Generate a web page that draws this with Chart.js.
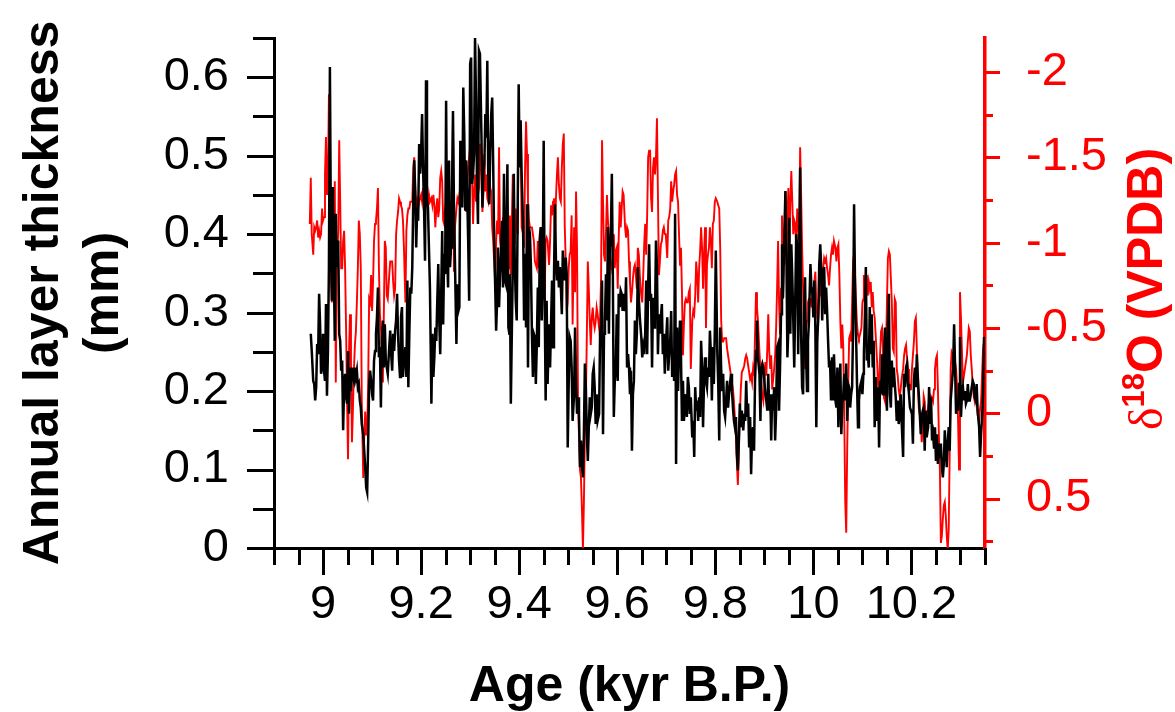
<!DOCTYPE html>
<html><head><meta charset="utf-8">
<script src="https://cdn.jsdelivr.net/npm/chart.js@4/dist/chart.umd.min.js"></script>
<style>html,body{margin:0;padding:0;background:#fff;overflow:hidden}canvas{display:block}</style>
</head><body>
<canvas id="c" width="1175" height="712"></canvas>
<script>
// Age in years B.P. (x values)
const ageYears = [
8973,8975,8977,8980,8982,8984,8986,8988,8990,8992,8994,8996,8998,9000,9002,9004,9006,9008,9010,9012,9014,9016,9018,9020,9022,9024,9026,9028,9031,9033,9035,9037,9039,9041,9043,9045,9047,9049,9051,9053,9055,9057,9059,9061,9063,9065,9067,9069,9071,9073,9075,9077,9079,9082,9084,9086,9088,9090,9092,9094,9096,9098,9100,9102,9104,9106,9108,9110,9112,9114,9116,9118,9120,9122,9124,9126,9128,9130,9132,9135,9137,9139,
9141,9143,9145,9147,9149,9151,9153,9155,9157,9159,9161,9163,9165,9168,9170,9172,9174,9176,9178,9180,9182,9184,9186,9188,9190,9192,9194,9196,9198,9200,9202,9204,9206,9208,9210,9212,9214,9216,9218,9221,9223,9225,9227,9229,9231,9233,9235,9237,9239,9241,9243,9245,9247,9249,9251,9253,9255,9257,9259,9261,9263,9265,9267,9269,9272,9274,9276,9278,9280,9282,9284,9286,9288,9290,9292,9294,9296,9298,9300,9302,9304,9306,9308,9310,9312,9314,9316,9318,9320,9323,9325,9327,9329,9331,9333,9335,9337,9339,9341,9343,9345,9347,9349,9351,9353,9355,9357,9359,9361,9363,9365,9367,9369,9371,9373,9376,9378,9380,
9381,9383,9385,9387,9389,9391,9393,9395,9397,9399,9401,9403,9405,9408,9410,9412,9414,9416,9418,9420,9422,9424,9426,9428,9430,9432,9434,9436,9438,9440,9442,9444,9446,9448,9450,9452,9454,9456,9458,9461,9463,9465,9467,9469,9471,9473,9475,9477,9479,9481,9483,9485,9487,9489,9491,9493,9495,9497,9499,9501,9503,9505,9507,9509,9512,9514,9516,9518,9520,9522,9524,9526,9528,9530,9532,9534,9536,9538,9540,9542,9544,9546,9548,9550,9552,9554,9556,9558,9560,9563,9565,9567,9569,9571,9573,9575,9577,9579,9581,9583,9585,9587,9589,9591,9593,9595,9597,9599,9601,9603,9605,9607,9609,9611,9613,9616,9618,9620,
9622,9624,9626,9628,9630,9632,9634,9636,9638,9640,9642,9644,9646,9649,9651,9653,9655,9657,9659,9661,9663,9665,9667,9669,9671,9673,9675,9677,9679,9681,9683,9685,9687,9689,9691,9693,9695,9697,9699,9702,9704,9706,9708,9710,9712,9714,9716,9718,9720,9722,9724,9726,9728,9730,9732,9734,9736,9738,9740,9742,9744,9746,9748,9750,9753,9755,9757,9759,9761,9763,9765,9767,9769,9771,9773,9775,9777,9779,9781,9783,9785,9787,9789,9791,9793,9795,9797,9799,9801,9804,9806,9808,9810,9812,9814,9816,9818,9820,9822,9824,9826,9828,9830,9832,9834,9836,9838,9840,9842,9844,9846,9848,9850,9852,9854,9857,9859,9861,
9863,9865,9867,9869,9871,9873,9875,9877,9879,9881,9883,9885,9887,9890,9892,9894,9896,9898,9900,9902,9904,9906,9908,9910,9912,9914,9916,9918,9920,9922,9924,9926,9928,9930,9932,9934,9936,9938,9940,9943,9945,9947,9949,9951,9953,9955,9957,9959,9961,9963,9965,9967,9969,9971,9973,9975,9977,9979,9981,9983,9985,9987,9989,9991,9994,9996,9998,10000,10002,10004,10006,10008,10010,10012,10014,10016,10018,10020,10022,10024,10026,10028,10030,10032,10034,10036,10038,10040,10042,10045,10047,10049,10051,10053,10055,10057,10059,10061,10063,10065,10067,10069,10071,10073,10075,10077,10079,10081,10083,10085,10087,10089,10091,10093,10095,10098,10100,10102,
10103,10105,10107,10109,10111,10113,10115,10117,10119,10121,10123,10125,10127,10130,10132,10134,10136,10138,10140,10142,10144,10146,10148,10150,10152,10154,10156,10158,10160,10162,10164,10166,10168,10170,10172,10174,10176,10178,10180,10183,10185,10187,10189,10191,10193,10195,10197,10199,10201,10203,10205,10207,10209,10211,10213,10215,10217,10219,10221,10223,10225,10227,10229,10231,10234,10236,10238,10240,10242,10244,10246,10248,10250,10252,10254,10256,10258,10260,10262,10264,10266,10268,10270,10272,10274,10276,10278,10280,10282,10285,10287,10289,10291,10293,10295,10297,10299,10301,10303,10305,10307,10309,10311,10313,10315,10317,10319,10321,10323,10325,10327,10329,10331,10333,10335,10338,10340,10342,10344,10346,10348,10350
];

// Annual layer thickness (mm), black, left axis
const thickness = [
null,.273,.251,.213,.209,.188,.205,.260,.247,.324,.285,.222,.230,.273,.226,.213,.311,.194,.251,.358,.613,.409,.315,.460,.358,.264,.426,.358,.392,.273,.264,.226,.239,.150,.209,.222,.192,.184,.251,.171,.230,.200,.230,.218,.213,.230,.218,.226,.205,.209,.188,.179,.158,.145,.124,.103,.077,.071,.133,.209,.226,.213,.196,.188,.239,.251,.273,.294,.332,.243,.256,.179,.264,.290,.230,.285,.239,.230,.222,.256,.277,.247,
.226,.273,.251,.277,.290,.324,.273,.239,.218,.294,.307,.218,.239,.256,.218,.341,.205,.273,.332,.324,.358,.443,.494,.455,.383,.434,.417,.515,.477,.502,.553,.485,.434,
.366,.596,.443,.434,.383,.332,.184,.273,.218,.243,.281,.264,.315,.362,.290,.247,.324,.404,.285,.375,.349,.570,.379,.332,.494,.358,.383,.451,
.557,.434,.366,.260,.336,.302,.307,.519,.455,.434,.587,.528,.430,.494,.451,.392,.315,.617,.625,.464,.477,.502,.652,.570,.468,.413,.634,.630,.528,.434,.477,.489,.553,.523,.621,.464,.438,.506,.553,.574,.489,.392,.336,.277,.315,.383,.307,.349,.375,.417,.332,.477,.341,.336,.489,.281,.273,
.349,.184,.273,.358,.477,.366,.315,.290,.434,.591,.485,.545,.477,.409,.290,.375,.281,.438,.230,.409,.400,.358,.273,.218,.273,.269,.209,.260,.332,.256,.392,.409,.290,
.358,.519,.319,.188,.315,.209,.285,.230,.285,.341,.256,.345,.438,.366,.341,.366,.332,.358,.332,.298,.379,.358,.341,.370,.349,.128,.209,.269,
.264,.230,.162,.196,.281,.209,.171,.192,.171,.103,.137,.103,.090,.145,.235,.205,.145,.111,.154,.192,.171,.179,.222,.230,.205,.158,.196,.162,.171,.273,.285,.341,.145,.273,.290,.349,.290,.409,.273,.383,.400,.477,.349,.167,.213,.230,.298,.213,.324,.307,.328,.324,.302,.324,.302,.345,.230,
.247,.230,.196,.226,.124,.196,.213,.290,.247,.273,.358,.319,.294,.269,.243,.256,.247,.273,.341,.247,.332,.387,.315,.324,.230,.319,.281,.290,.392,.358,.247,.298,.273,
.294,.311,.247,.273,.222,.256,.294,.226,.247,.264,.302,.218,.251,.213,.426,.107,.281,.200,.251,.290,.243,.162,.213,.162,.188,.196,.167,.218,
.205,.171,.192,.141,.162,.116,.205,.175,.188,.162,.192,.167,.264,.230,.154,.213,.243,.213,.205,.230,.218,.277,.247,.188,.256,.209,.277,.379,.251,.209,.137,.281,.226,.200,.222,.175,.167,.188,.213,.179,.196,.209,.222,.200,.179,.162,.154,.167,.120,.099,.137,.184,.154,.175,.150,.171,.162,
.213,.167,.184,.128,.167,.094,.145,.154,.124,.213,.251,.290,.243,.222,.162,.230,.235,.230,.213,.196,.188,.175,.222,.175,.196,.137,.196,.175,.205,.137,.175,.256,.260,
.175,.230,.298,.387,.319,.379,.455,.375,.243,.281,.421,.273,.387,.345,.290,.230,.315,.400,.383,.247,.358,.485,.273,.205,.196,.298,.345,.247,
.200,.264,.290,.362,.332,.324,.294,.341,.281,.154,.264,.298,.362,.387,.358,.290,.349,.358,.298,.332,.302,.264,.230,.239,.188,.243,.188,.247,.188,.179,.230,.154,.205,.235,.145,.184,.196,.222,.188,.235,.162,.209,.205,.179,.196,.205,.281,.438,.332,.273,.209,.154,.188,.205,.213,.196,.222,
.247,.294,.358,.239,.247,.230,.307,.247,.298,.230,.264,.154,.218,.162,.205,.128,.213,.196,.247,.196,.247,.281,.222,.175,.285,.324,.196,.179,.239,.205,.230,.209,.192,
.162,.188,.158,.167,.196,.162,.116,.222,.205,.230,.235,.209,.196,.179,.175,.171,.133,.213,.230,.205,.247,.218,.196,.171,.145,.167,.175,.179,
.124,.175,.141,.154,.205,.158,.192,.137,.145,.128,.154,.111,.145,.107,.133,.124,.133,.103,.090,.107,.150,.128,.103,.133,.154,.124,.188,.205,.230,.285,.230,.171,.188,.175,.209,.269,.167,.196,.205,.188,.200,.184,.188,.209,.188,.188,.196,.205,.213,.209,.192,.188,.209,.175,.154,.116,.145,.167,.196,.269,.247
];

// delta 18O (per mil VPDB), red, right axis (reversed)
const d18O = [
-1.11,-1.38,-1.05,-0.93,-1.09,-1.07,-1.09,-1.13,-1.03,-1.07,-1.03,-1.05,-1.20,-1.13,-1.15,-1.40,-1.62,-1.28,-1.36,-1.87,-1.38,-0.81,-0.65,-0.95,-1.07,-1.36,-0.18,-0.85,-1.07,-1.60,-1.24,-0.85,-0.85,-1.01,-1.07,-0.85,-0.50,-0.07,0.27,-0.36,-0.58,-0.30,0.17,-0.03,-0.26,-0.40,-0.48,-0.65,-0.85,-1.13,-1.05,-0.85,-0.07,0.38,0.13,-0.01,0.13,0.09,-0.16,-0.67,-0.65,-0.81,-0.60,-0.77,-1.01,-1.11,-1.13,-1.20,-1.32,-0.85,-0.58,-0.50,-0.34,-0.18,-0.58,-1.01,-0.97,-0.69,-0.67,-0.81,-0.89,-0.89,
-0.89,-0.77,-0.69,-0.73,-1.05,-1.13,-1.18,-1.26,-1.24,-1.22,-1.20,-1.13,-0.97,-0.65,-1.07,-1.16,-1.20,-1.20,-1.24,-1.24,-1.24,-1.44,-1.50,-1.32,-1.18,-1.24,-1.20,-1.24,-1.26,-1.28,-1.24,-1.32,-1.24,
-1.30,-1.28,-1.24,-1.20,-1.28,-1.24,-1.26,-1.22,-1.28,-1.22,-1.09,-1.20,-1.26,-1.15,-1.20,-1.38,-1.42,-1.36,-1.13,-1.11,-1.20,-1.24,-1.28,-1.13,-1.20,-1.24,-1.05,-1.01,
-1.73,-0.83,-1.09,-1.20,-1.26,-1.24,-1.28,-1.32,-1.38,-1.28,-1.36,-1.40,-1.24,-1.18,-1.34,-1.44,-1.50,-1.56,-1.40,-1.36,-1.11,-1.30,-1.40,-1.24,-1.44,-1.28,-1.32,-1.58,-1.40,-1.18,-1.28,-1.52,-1.30,-1.40,-1.26,-1.24,-1.40,-1.32,-1.30,-1.09,-1.01,-0.89,-0.77,-1.01,-1.13,-1.05,-1.56,-1.01,-0.95,-1.11,-1.15,-1.01,-1.05,-0.87,-1.13,-1.05,-0.85,
-1.16,-0.81,-1.13,-1.40,-1.30,-0.99,-1.20,-1.09,-1.05,-1.75,-1.67,-1.64,-1.09,-1.05,-0.97,-1.44,-1.71,-1.52,-1.24,-1.13,-1.09,-1.09,-1.09,-1.05,-1.01,-0.89,-0.87,-0.85,-1.01,-0.85,-1.05,-1.09,-0.93,
-0.89,-0.69,-0.67,-1.01,-1.03,-1.01,-0.87,-1.01,-1.22,-1.16,-1.24,-1.26,-1.01,-1.26,-1.40,-1.50,-1.34,-1.26,-1.24,-1.44,-1.58,-1.64,-1.09,-0.89,-0.60,-0.65,-0.85,-0.93,
-0.95,-1.16,-0.52,-1.09,-0.71,-1.30,-0.97,-0.07,0.13,0.33,0.38,0.56,0.80,0.52,0.13,-0.07,-0.46,-0.89,-0.73,-0.54,-0.40,-0.56,-0.62,-0.54,-0.50,-0.54,-0.62,-0.58,-0.50,-0.56,-0.79,-1.60,-1.24,-0.93,-0.89,-1.05,-1.28,-1.13,-1.05,-0.95,-0.89,-0.85,-0.89,-1.05,-0.85,-0.95,-0.97,-0.73,-1.03,-1.24,-1.09,-1.20,-1.30,-1.28,-1.09,-1.03,-1.09,
-1.07,-0.89,-0.77,-0.65,-0.71,-0.79,-0.85,-0.87,-0.81,-0.73,-0.97,-0.93,-0.81,-0.69,-0.65,-0.81,-0.99,-1.11,-0.93,-1.16,-1.50,-1.54,-1.54,-1.26,-1.18,-1.44,-1.50,-1.40,-1.50,-1.73,-1.28,-0.81,-0.89,
-0.99,-1.01,-1.07,-1.09,-1.05,-1.05,-0.91,-1.13,-1.15,-1.20,-1.36,-1.24,-1.30,-1.34,-1.40,-1.42,-1.28,-1.24,-1.05,-0.87,-0.97,-0.71,-0.34,-0.52,-0.65,-0.67,-0.65,-0.65,
-0.71,-0.73,-0.26,-0.54,-0.60,-0.58,-0.69,-0.89,-0.81,-0.65,-0.85,-0.95,-1.09,-0.97,-0.73,-0.93,-1.09,-0.50,-0.87,-0.93,-0.97,-1.09,-1.01,-0.85,-1.11,-1.13,-1.24,-1.26,-1.24,-1.22,-1.20,-0.97,-0.54,-0.42,-0.42,-0.44,-0.44,-0.44,-0.38,-0.34,-0.30,-0.26,-0.22,-0.18,-0.14,-0.07,0.03,0.13,0.29,0.42,0.23,0.01,-0.14,-0.24,-0.26,-0.28,-0.32,
-0.34,-0.32,-0.28,-0.24,-0.20,-0.22,-0.18,-0.26,-0.22,-0.46,-0.71,-0.62,-0.54,-0.36,-0.26,-0.16,-0.10,-0.07,-0.16,-0.30,-0.22,-0.38,-0.58,-0.36,-0.26,-0.34,-0.14,-0.20,-0.26,-0.34,-0.50,-0.73,-1.01,
-0.65,-0.46,-0.73,-1.16,-0.67,-0.95,-1.30,-0.87,-1.13,-1.32,-1.01,-1.24,-1.42,-1.24,-1.05,-1.13,-1.11,-0.97,-1.20,-1.11,-1.01,-1.56,-1.28,-0.97,-0.73,-0.42,-0.26,-0.50,
-0.54,-0.65,-0.67,-0.67,-0.62,-0.69,-0.65,-0.77,-0.83,-0.65,-0.56,-0.54,-0.69,-0.69,-0.79,-0.85,-0.85,-0.91,-0.89,-0.91,-0.85,-0.81,-0.75,-0.85,-0.93,-0.97,-0.93,-1.01,-0.97,-0.89,-0.97,-0.99,-0.81,-0.54,-0.38,-0.52,-0.38,0.03,0.52,0.70,0.21,-0.16,-0.44,-0.46,-0.42,-0.65,-0.89,-0.93,-0.81,-0.65,-0.52,-0.46,-0.44,-0.46,-0.50,-0.65,-0.67,
-0.81,-0.65,-0.75,-0.81,-0.69,-0.77,-0.73,-0.77,-0.62,-0.71,-0.60,-0.56,-0.46,-0.30,-0.16,-0.14,-0.34,-0.48,-0.50,-0.38,-0.09,-0.07,-0.36,-0.65,-0.91,-0.95,-0.93,-0.79,-0.65,-0.38,-0.36,-0.67,-0.65,
-0.26,-0.22,-0.14,-0.10,-0.14,-0.20,-0.26,-0.34,-0.38,-0.40,-0.32,-0.26,-0.18,-0.14,-0.14,-0.26,-0.34,-0.42,-0.54,-0.56,-0.38,-0.16,-0.03,0.01,0.05,0.17,0.07,-0.10,
-0.07,0.03,0.01,-0.03,-0.07,-0.03,-0.10,-0.09,-0.07,-0.14,-0.26,-0.32,-0.34,-0.14,0.13,0.33,0.76,0.72,0.62,0.54,0.52,0.60,0.72,0.80,0.68,0.23,-0.26,-0.36,-0.34,-0.26,-0.30,-0.26,-0.16,0.03,0.33,-0.71,-0.56,-0.36,-0.18,-0.22,-0.26,-0.30,-0.34,-0.42,-0.50,-0.48,-0.34,-0.26,-0.16,-0.10,-0.07,-0.14,-0.07,0.01,0.05,-0.03,-0.07,-0.22,-0.38,-0.42,-0.46
];

// Tick labels
const xMajorValues = [9, 9.2, 9.4, 9.6, 9.8, 10, 10.2];
const xTickLabels = ['9', '9.2', '9.4', '9.6', '9.8', '10', '10.2'];
const leftMajorValues = [0, 0.1, 0.2, 0.3, 0.4, 0.5, 0.6];
const leftTickLabels = ['0', '0.1', '0.2', '0.3', '0.4', '0.5', '0.6'];
const rightMajorValues = [-2, -1.5, -1, -0.5, 0, 0.5];
const rightTickLabels = ['-2', '-1.5', '-1', '-0.5', '0', '0.5'];

const FONT = '"Liberation Sans", Arial, Helvetica, sans-serif';
const RED = '#ff0000';

function majorIndex(v, majors) {
  for (let i = 0; i < majors.length; i++) if (Math.abs(v - majors[i]) < 1e-6) return i;
  return -1;
}
function onGrid(v, step) {
  const q = v / step;
  return Math.abs(q - Math.round(q)) < 1e-6;
}

const n = Math.min(ageYears.length, thickness.length, d18O.length);
const blackPts = [], redPts = [];
for (let i = 0; i < n; i++) {
  blackPts.push({x: ageYears[i] / 1000, y: thickness[i]});
  redPts.push({x: ageYears[i] / 1000, y: d18O[i]});
}

function noPadY(s, w) { s.width = w; s.paddingTop = 0; s.paddingBottom = 0; }

const tickMarks = {
  id: 'tickMarks',
  afterDraw(chart) {
    const ctx = chart.ctx;
    const ca = chart.chartArea;
    const xs = chart.scales.x, yl = chart.scales.y, yr = chart.scales.y2;
    ctx.save();
    ctx.lineCap = 'butt';
    ctx.lineWidth = 3;
    ctx.strokeStyle = '#000';
    xs.ticks.forEach(t => {
      const v = t.value;
      if (!onGrid(v, 0.05) || v < xs.min - 1e-9 || v > xs.max + 1e-9) return;
      const px = Math.round(xs.getPixelForValue(v)) + 0.5;
      const len = majorIndex(v, xMajorValues) >= 0 ? 27 : 17;
      ctx.beginPath(); ctx.moveTo(px, ca.bottom); ctx.lineTo(px, ca.bottom + len); ctx.stroke();
    });
    yl.ticks.forEach(t => {
      const v = t.value;
      if (!onGrid(v, 0.05) || v < yl.min - 1e-9 || v > yl.max + 1e-9) return;
      const py = Math.round(yl.getPixelForValue(v)) + 0.5;
      const len = majorIndex(v, leftMajorValues) >= 0 ? 27 : 21;
      ctx.beginPath(); ctx.moveTo(ca.left, py); ctx.lineTo(ca.left - len, py); ctx.stroke();
    });
    ctx.strokeStyle = RED;
    yr.ticks.forEach(t => {
      const v = t.value;
      if (!onGrid(v, 0.25) || v < yr.min - 1e-9 || v > yr.max + 1e-9) return;
      const py = Math.round(yr.getPixelForValue(v)) + 0.5;
      const len = majorIndex(v, rightMajorValues) >= 0 ? 15 : 8;
      ctx.beginPath(); ctx.moveTo(ca.right, py); ctx.lineTo(ca.right + len, py); ctx.stroke();
    });
    // right axis title, reading bottom-to-top: δ18O (VPDB)
    ctx.translate(1144, 289);
    ctx.rotate(-Math.PI / 2);
    ctx.fillStyle = RED;
    ctx.textBaseline = 'alphabetic';
    ctx.textAlign = 'left';
    const fDelta = '48px "Liberation Serif", "DejaVu Serif", serif';
    const fSup = 'bold 31px ' + FONT;
    const fMain = 'bold 50px ' + FONT;
    ctx.font = fDelta; const wD = ctx.measureText('δ').width;
    ctx.font = fSup; const wS = ctx.measureText('18').width;
    ctx.font = fMain; const wM = ctx.measureText('O (VPDB)').width;
    let x0 = -(wD + wS + wM) / 2;
    const base = 18;
    ctx.font = fDelta; ctx.fillText('δ', x0, base); x0 += wD;
    ctx.font = fSup; ctx.fillText('18', x0, base - 18); x0 += wS;
    ctx.font = fMain; ctx.fillText('O (VPDB)', x0, base);
    ctx.restore();
  }
};

new Chart(document.getElementById('c'), {
  type: 'line',
  data: {
    datasets: [
      {label: 'Annual layer thickness', data: blackPts, yAxisID: 'y', borderColor: '#000', borderWidth: 2.5, pointRadius: 0, tension: 0, fill: false, spanGaps: false},
      {label: 'δ18O', data: redPts, yAxisID: 'y2', borderColor: RED, borderWidth: 1.9, pointRadius: 0, tension: 0, fill: false}
    ]
  },
  options: {
    responsive: false,
    animation: false,
    devicePixelRatio: 1,
    layout: {padding: {top: 38, left: 0, right: 0, bottom: 0}},
    plugins: {legend: {display: false}, tooltip: {enabled: false}},
    scales: {
      x: {
        type: 'linear', position: 'bottom', min: 8.9, max: 10.35,
        afterFit: s => { s.height = 164; s.paddingLeft = 0; s.paddingRight = 0; },
        grid: {display: false, drawTicks: false},
        border: {display: true, color: '#000', width: 3},
        ticks: {
          stepSize: 0.05, includeBounds: false, autoSkip: false, maxRotation: 0, minRotation: 0, padding: 29,
          color: '#000', font: {family: FONT, size: 47, lineHeight: 1.2},
          callback: v => { const i = majorIndex(v, xMajorValues); return i >= 0 ? xTickLabels[i] : ''; }
        },
        title: {display: true, text: 'Age (kyr B.P.)', color: '#000', padding: {top: 0, bottom: 0}, font: {family: FONT, size: 50, weight: 'bold', lineHeight: 1.0}}
      },
      y: {
        type: 'linear', position: 'left', min: 0, max: 0.65,
        afterFit: s => noPadY(s, 274),
        grid: {display: false, drawTicks: false},
        border: {display: true, color: '#000', width: 3},
        ticks: {
          stepSize: 0.05, includeBounds: false, autoSkip: false, padding: 45,
          color: '#000', font: {family: FONT, size: 47, lineHeight: 1.2},
          callback: v => { const i = majorIndex(v, leftMajorValues); return i >= 0 ? leftTickLabels[i] : ''; }
        },
        title: {display: true, text: ['Annual layer thickness', '(mm)'], color: '#000', padding: {top: 14, bottom: 0}, font: {family: FONT, size: 50, weight: 'bold', lineHeight: 1.2}}
      },
      y2: {
        type: 'linear', position: 'right', min: -2.2, max: 0.79, reverse: true,
        afterFit: s => noPadY(s, 190),
        grid: {display: false, drawTicks: false},
        border: {display: true, color: RED, width: 3.5},
        ticks: {
          stepSize: 0.25, includeBounds: false, autoSkip: false, padding: 41,
          color: RED, font: {family: FONT, size: 47, lineHeight: 1.2},
          callback: v => { const i = majorIndex(v, rightMajorValues); return i >= 0 ? rightTickLabels[i] : ''; }
        },
        title: {display: false}
      }
    }
  },
  plugins: [tickMarks]
});
</script>
</body></html>
